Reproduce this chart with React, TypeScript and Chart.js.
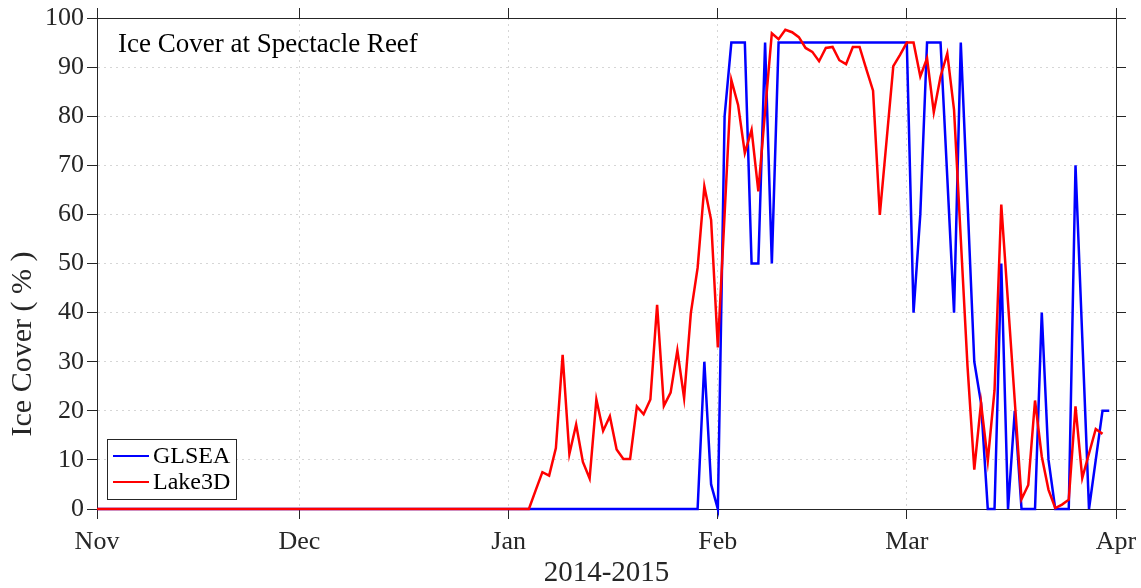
import React, { useEffect, useRef } from "react";
import { Chart, registerables } from "chart.js";

Chart.register(...registerables);

// Day index 0 = 1 Nov 2014
const monthTicks = [0, 30, 61, 92, 120, 151];
const monthLabels = ["Nov", "Dec", "Jan", "Feb", "Mar", "Apr"];
const yTicks = [0, 10, 20, 30, 40, 50, 60, 70, 80, 90, 100];

const glsea = [
  0, 0, 0, 0, 0, 0, 0, 0, 0, 0,
  0, 0, 0, 0, 0, 0, 0, 0, 0, 0,
  0, 0, 0, 0, 0, 0, 0, 0, 0, 0,
  0, 0, 0, 0, 0, 0, 0, 0, 0, 0,
  0, 0, 0, 0, 0, 0, 0, 0, 0, 0,
  0, 0, 0, 0, 0, 0, 0, 0, 0, 0,
  0, 0, 0, 0, 0, 0, 0, 0, 0, 0,
  0, 0, 0, 0, 0, 0, 0, 0, 0, 0,
  0, 0, 0, 0, 0, 0, 0, 0, 0, 0,
  30, 5, 0, 80, 95, 95, 95, 50, 50, 95,
  50, 95, 95, 95, 95, 95, 95, 95, 95, 95,
  95, 95, 95, 95, 95, 95, 95, 95, 95, 95,
  95, 40, 60, 95, 95, 95, 67.5, 40, 95, 62.5,
  30, 21.6, 0, 0, 50, 0, 20, 0, 0, 0,
  40, 10, 0, 0, 0, 70, 35, 0, 10, 20,
  20,
];

const lake3d = [
  0, 0, 0, 0, 0, 0, 0, 0, 0, 0,
  0, 0, 0, 0, 0, 0, 0, 0, 0, 0,
  0, 0, 0, 0, 0, 0, 0, 0, 0, 0,
  0, 0, 0, 0, 0, 0, 0, 0, 0, 0,
  0, 0, 0, 0, 0, 0, 0, 0, 0, 0,
  0, 0, 0, 0, 0, 0, 0, 0, 0, 0,
  0, 0, 0, 0, 0,
  3.8, 7.5, 6.8, 12.4, 31.4, 11.2, 17.2, 9.6, 6.2, 22.3,
  15.9, 18.9, 12.1, 10.2, 10.2, 20.9, 19.3, 22.3, 41.6, 21.0,
  23.7, 32.3, 22.6, 39.9, 49.1, 65.7, 58.9, 32.9, 60, 87.4,
  82.3, 72.5, 77.2, 64.7, 81, 96.9, 95.7, 97.6, 97.1, 96.1,
  93.9, 93.1, 91.2, 93.9, 94.1, 91.4, 90.6, 94.1, 94.1, 89.6,
  85.2, 59.9, 75, 90.2, 92.5, 95, 95, 88.1, 91.8, 80.8,
  88.1, 92.8, 81.3, 55, 29, 8, 21.6, 9.8, 24.2, 62,
  42, 22, 2, 4.9, 22.1, 10.7, 3.9, 0.2, 0.9, 1.9,
  20.9, 6.3, 11.3, 16.3, 15.3,
];

const seriesLabels = ["GLSEA", "Lake3D"];
const plotTitle = "Ice Cover at Spectacle Reef";
const yAxisTitle = "Ice Cover ( % )";
const xAxisTitle = "2014-2015";

const FONT = '"Liberation Serif", "Times New Roman", serif';
const AXIS = "#262626";
const GRID = "#d6d6d6";

export default function App() {
  const ref = useRef<HTMLCanvasElement>(null);

  useEffect(() => {
    const canvas = ref.current;
    if (!canvas) return;

    const overlay = {
      id: "overlay",
      afterDraw(chart: any) {
        const { ctx, chartArea: a } = chart;
        ctx.save();
        ctx.fillStyle = "#000";
        ctx.textAlign = "left";
        ctx.textBaseline = "alphabetic";
        ctx.font = `27px ${FONT}`;
        ctx.fillText(plotTitle, a.left + 21, a.top + 34);

        // y-axis title (placed as in the reference, below the axis centre)
        ctx.save();
        ctx.translate(23, 344);
        ctx.rotate(-Math.PI / 2);
        ctx.textAlign = "center";
        ctx.textBaseline = "middle";
        ctx.fillStyle = AXIS;
        ctx.font = `30px ${FONT}`;
        ctx.fillText(yAxisTitle, 0, 0);
        ctx.restore();

        const bx = a.left + 10;
        const by = a.bottom - 70;
        const bw = 129;
        const bh = 60;
        ctx.fillStyle = "#fff";
        ctx.fillRect(bx, by, bw, bh);
        ctx.strokeStyle = AXIS;
        ctx.lineWidth = 1;
        ctx.strokeRect(bx + 0.5, by + 0.5, bw, bh);
        chart.data.datasets.forEach((ds: any, i: number) => {
          const cy = by + 17 + i * 26;
          ctx.strokeStyle = ds.borderColor;
          ctx.lineWidth = 2;
          ctx.beginPath();
          ctx.moveTo(bx + 6, cy);
          ctx.lineTo(bx + 42, cy);
          ctx.stroke();
          ctx.fillStyle = "#000";
          ctx.font = `24px ${FONT}`;
          ctx.textBaseline = "middle";
          ctx.textAlign = "left";
          ctx.fillText(ds.label, bx + 46, cy + 1);
        });
        ctx.restore();
      },
    };

    const xTicksBuild = (s: any) => {
      s.ticks = monthTicks.map((v) => ({ value: v }));
    };
    const yTicksBuild = (s: any) => {
      s.ticks = yTicks.map((v) => ({ value: v }));
    };
    const zeroPad = (s: any) => {
      s.paddingLeft = 0;
      s.paddingRight = 0;
      s.paddingTop = 0;
      s.paddingBottom = 0;
    };

    const chart = new Chart(canvas, {
      type: "line",
      data: {
        datasets: [
          {
            label: seriesLabels[0],
            data: glsea.map((v, i) => ({ x: i, y: v })),
            borderColor: "#0000ff",
            backgroundColor: "#0000ff",
            borderWidth: 2.5,
            pointRadius: 0,
            tension: 0,
            order: 1,
            clip: false as any,
          },
          {
            label: seriesLabels[1],
            data: lake3d.map((v, i) => ({ x: i, y: v })),
            borderColor: "#ff0000",
            backgroundColor: "#ff0000",
            borderWidth: 2.5,
            pointRadius: 0,
            tension: 0,
            order: 0,
            clip: false as any,
          },
        ],
      },
      options: {
        responsive: false,
        animation: false,
        events: [],
        layout: { padding: 0 },
        plugins: {
          legend: { display: false },
          tooltip: { enabled: false },
          title: { display: false },
        },
        scales: {
          x: {
            type: "linear",
            position: "bottom",
            min: 0,
            max: 151,
            afterBuildTicks: xTicksBuild,
            ticks: {
              callback: (v: any) => monthLabels[monthTicks.indexOf(Number(v))],
              font: { family: FONT, size: 26 },
              color: AXIS,
              padding: 8,
              maxRotation: 0,
              autoSkip: false,
            },
            grid: {
              color: GRID,
              lineWidth: 1,
              tickColor: AXIS,
              tickLength: 10,
              tickWidth: 1,
            },
            border: { display: true, color: AXIS, width: 1, dash: [2, 4] },
            title: {
              display: true,
              text: xAxisTitle,
              color: AXIS,
              font: { family: FONT, size: 29, lineHeight: 1 },
              padding: { top: 0, bottom: 0 },
            },
            afterFit: (s: any) => {
              s.height = 79;
              zeroPad(s);
            },
          },
          x2: {
            type: "linear",
            position: "top",
            min: 0,
            max: 151,
            afterBuildTicks: xTicksBuild,
            ticks: { display: false },
            grid: {
              drawOnChartArea: false,
              tickColor: AXIS,
              tickLength: 10,
              tickWidth: 1,
            },
            border: { display: true, color: AXIS, width: 1 },
            afterFit: (s: any) => {
              s.height = 18;
              zeroPad(s);
            },
          },
          y: {
            type: "linear",
            position: "left",
            min: 0,
            max: 100,
            afterBuildTicks: yTicksBuild,
            ticks: {
              font: { family: FONT, size: 26 },
              color: AXIS,
              padding: 3,
            },
            grid: {
              color: GRID,
              lineWidth: 1,
              tickColor: AXIS,
              tickLength: 10,
              tickWidth: 1,
            },
            border: { display: true, color: AXIS, width: 1, dash: [2, 4] },
            afterFit: (s: any) => {
              s.width = 97;
              zeroPad(s);
            },
          },
          y2: {
            type: "linear",
            position: "right",
            min: 0,
            max: 100,
            afterBuildTicks: yTicksBuild,
            ticks: { display: false },
            grid: {
              drawOnChartArea: false,
              tickColor: AXIS,
              tickLength: 10,
              tickWidth: 1,
            },
            border: { display: true, color: AXIS, width: 1 },
            afterFit: (s: any) => {
              s.width = 25;
              zeroPad(s);
            },
          },
        },
      } as any,
      plugins: [overlay],
    });

    return () => chart.destroy();
  }, []);

  return (
    <canvas
      ref={ref}
      width={1141}
      height={588}
      style={{
        position: "absolute",
        left: 0,
        top: 0,
        width: "1141px",
        height: "588px",
        display: "block",
        background: "#fff",
      }}
    />
  );
}
